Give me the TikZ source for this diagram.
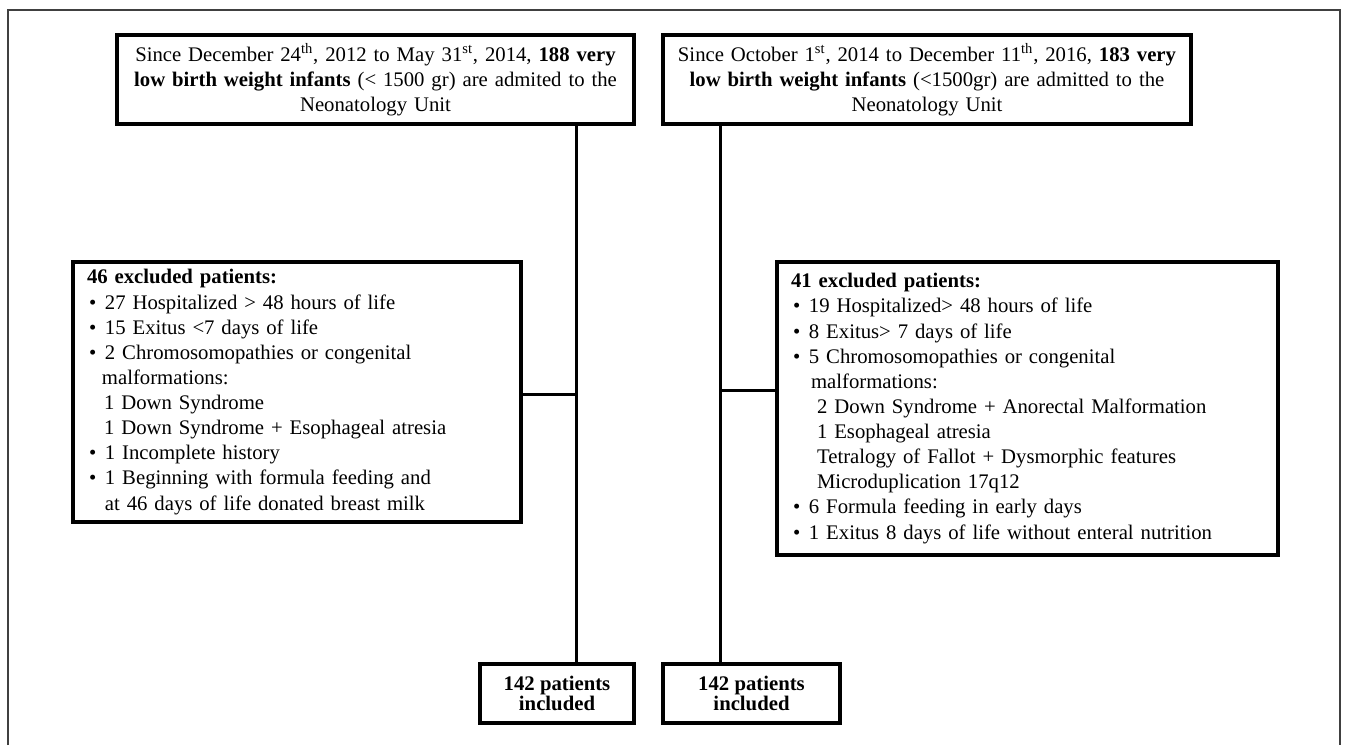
\documentclass[tikz,border=0pt]{standalone}
\usepackage{fontspec}
\setmainfont{Liberation Serif}
\usepackage{tikz}

\newcommand{\bul}{\hspace*{1.2pt}\makebox[9pt][l]{\textbullet}}

\begin{document}
\begin{tikzpicture}[
  x=0.02cm, y=-0.02cm,
  font=\fontsize{11.8}{14.3}\selectfont,
  box/.style={draw, rectangle, line width=2pt, inner sep=0pt},
  conn/.style={line width=1.7pt}
]
\useasboundingbox (0,0) rectangle (1345,745);
\draw[black!75, line width=0.8pt] (8,745) -- (8,10) -- (1340,10) -- (1340,745);

% cohorts
\node[box, align=center, minimum width=10.34cm, minimum height=1.78cm, text width=10cm] (top1) at (375.5,79.5)
  {Since December 24\textsuperscript{th}, 2012 to May 31\textsuperscript{st}, 2014, \textbf{188 very}\\
   \textbf{low birth weight infants} (< 1500 gr) are admited to the\\
   Neonatology Unit};
\node[box, align=center, minimum width=10.56cm, minimum height=1.78cm, text width=10.2cm] (top2) at (927,79.5)
  {Since October 1\textsuperscript{st}, 2014 to December 11\textsuperscript{th}, 2016, \textbf{183 very}\\
   \textbf{low birth weight infants} (<1500gr) are admitted to the\\
   Neonatology Unit};

% exclusions
\node[box, align=left, minimum height=5.2cm, text width=8.4cm, inner xsep=0.28cm] (excl1) at (297,392)
  {\textbf{46 excluded patients:}\\
   \bul 27 Hospitalized > 48 hours of life\\
   \bul 15 Exitus <7 days of life\\
   \bul 2 Chromosomopathies or congenital\\
   \hspace*{8.5pt}malformations:\\
   \hspace*{9.7pt}1 Down Syndrome\\
   \hspace*{9.7pt}1 Down Syndrome + Esophageal atresia\\
   \bul 1 Incomplete history\\
   \bul 1 Beginning with formula feeding and\\
   \hspace*{10.2pt}at 46 days of life donated breast milk};
\node[box, align=left, minimum height=5.86cm, text width=9.46cm, inner xsep=0.28cm] (excl2) at (1027.5,408.5)
  {\textbf{41 excluded patients:}\\
   \bul 19 Hospitalized> 48 hours of life\\
   \bul 8 Exitus> 7 days of life\\
   \bul 5 Chromosomopathies or congenital\\
   \hspace*{11.4pt}malformations:\\
   \hspace*{14.8pt}2 Down Syndrome + Anorectal Malformation\\
   \hspace*{14.8pt}1 Esophageal atresia\\
   \hspace*{14.8pt}Tetralogy of Fallot + Dysmorphic features\\
   \hspace*{14.8pt}Microduplication 17q12\\
   \bul 6 Formula feeding in early days\\
   \bul 1 Exitus 8 days of life without enteral nutrition};

% included
\node[box, align=center, minimum width=3.08cm, minimum height=1.18cm,
  font=\bfseries\fontsize{11.8}{11.6}\selectfont] (inc1) at (557,693.5) {142 patients\\included};
\node[box, align=center, minimum width=3.54cm, minimum height=1.18cm,
  font=\bfseries\fontsize{11.8}{11.6}\selectfont] (inc2) at (751.5,693.5) {142 patients\\included};

\coordinate (j1) at (576,394);
\coordinate (j2) at (720,390);
\draw[conn] (top1.south -| j1) -- (inc1.north -| j1);
\draw[conn] (excl1.east |- j1) -- (j1);
\draw[conn] (top2.south -| j2) -- (inc2.north -| j2);
\draw[conn] (j2) -- (excl2.west |- j2);
\end{tikzpicture}
\end{document}
